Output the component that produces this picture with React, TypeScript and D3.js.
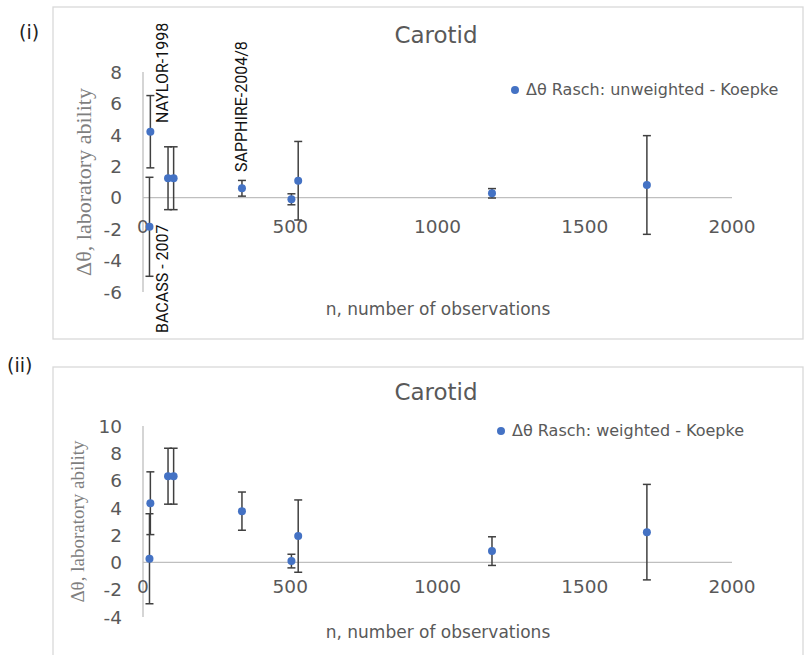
import React from "react";
import * as d3 from "d3";

const nObs = [25, 22, 85, 104, 336, 504, 527, 1185, 1711];
const unweighted = [4.2, -1.85, 1.24, 1.24, 0.6, -0.1, 1.08, 0.28, 0.81];
const unweightedErr = [2.3, 3.15, 2.0, 2.0, 0.5, 0.35, 2.5, 0.3, 3.14];
const weighted = [4.34, 0.27, 6.32, 6.32, 3.76, 0.1, 1.93, 0.83, 2.22];
const weightedErr = [2.3, 3.3, 2.05, 2.05, 1.4, 0.5, 2.65, 1.05, 3.5];
const xTicks = [0, 500, 1000, 1500, 2000];
const yTicksTop = [-6, -4, -2, 0, 2, 4, 6, 8];
const yTicksBottom = [-4, -2, 0, 2, 4, 6, 8, 10];
const annotations = [
  { label: "NAYLOR-1998", n: 25, anchorY: 123, dx: 18 },
  { label: "SAPPHIRE-2004/8", n: 336, anchorY: 172, dx: 5 },
  { label: "BACASS - 2007", n: 22, anchorY: 333, dx: 19 },
];

const TEXT = "#595959";
const AXIS = "#BFBFBF";
const ERR = "#404040";
const DOT = "#4472C4";
const SANS = "DejaVu Sans, sans-serif";

type PanelProps = {
  tag: string;
  tagX: number;
  tagY: number;
  box: [number, number, number, number];
  yDomain: [number, number];
  yRange: [number, number];
  yTicks: number[];
  values: number[];
  errs: number[];
  title: string;
  titleY: number;
  legend: string;
  legendX: number;
  legendY: number;
  tickLabelY: number;
  xTitleY: number;
  yTitleX: number;
  yTitleSize: number;
  showAnn: boolean;
};

function Panel(p: PanelProps) {
  const x = d3.scaleLinear().domain([0, 2000]).range([143, 732]);
  const y = d3.scaleLinear().domain(p.yDomain).range(p.yRange);
  const [bx, by, bw, bh] = p.box;
  const yMid = (p.yRange[0] + p.yRange[1]) / 2;
  return (
    <g>
      <text x={p.tagX} y={p.tagY} fontFamily={SANS} fontSize={19} fill="#222">
        {p.tag}
      </text>
      <rect x={bx} y={by} width={bw} height={bh} fill="#fff" stroke="#D9D9D9" strokeWidth={1.3} />
      <text x={436} y={p.titleY} textAnchor="middle" fontFamily={SANS} fontSize={23} fill={TEXT}>
        {p.title}
      </text>
      <line x1={x(0)} x2={x(0)} y1={y(p.yDomain[1])} y2={y(p.yDomain[0])} stroke={AXIS} strokeWidth={1.3} />
      <line x1={x(0)} x2={x(2000)} y1={y(0)} y2={y(0)} stroke={AXIS} strokeWidth={1.3} />
      {p.yTicks.map((t) => (
        <text key={"y" + t} x={122} y={y(t)} dy="0.36em" textAnchor="end" fontFamily={SANS} fontSize={18.5} fill={TEXT}>
          {t}
        </text>
      ))}
      {xTicks.map((t) => (
        <text key={"x" + t} x={x(t)} y={p.tickLabelY} textAnchor="middle" fontFamily={SANS} fontSize={18.5} fill={TEXT}>
          {t}
        </text>
      ))}
      <text x={438} y={p.xTitleY} textAnchor="middle" fontFamily={SANS} fontSize={17} fill={TEXT}>
        n, number of observations
      </text>
      <text
        transform={`translate(${p.yTitleX},${yMid}) rotate(-90)`}
        textAnchor="middle"
        fontFamily="Liberation Serif, Times New Roman, serif"
        fontSize={p.yTitleSize}
        fill="#7F7F7F"
      >
        Δθ, laboratory ability
      </text>
      {nObs.map((n, i) => {
        const cx = x(n);
        const hi = y(p.values[i] + p.errs[i]);
        const lo = y(p.values[i] - p.errs[i]);
        return (
          <g key={"e" + i} stroke={ERR} strokeWidth={1.5}>
            <line x1={cx} x2={cx} y1={hi} y2={lo} />
            <line x1={cx - 4} x2={cx + 4} y1={hi} y2={hi} />
            <line x1={cx - 4} x2={cx + 4} y1={lo} y2={lo} />
          </g>
        );
      })}
      {nObs.map((n, i) => (
        <circle key={"d" + i} cx={x(n)} cy={y(p.values[i])} r={4} fill={DOT} />
      ))}
      <circle cx={p.legendX} cy={p.legendY - 5} r={4} fill={DOT} />
      <text x={p.legendX + 11} y={p.legendY} fontFamily={SANS} fontSize={16} fill={TEXT}>
        {p.legend}
      </text>
      {p.showAnn &&
        annotations.map((a) => (
          <text
            key={a.label}
            transform={`translate(${x(a.n) + a.dx},${a.anchorY}) rotate(-90)`}
            fontFamily="Roboto, sans-serif"
            fontSize={16}
            fill="#111"
          >
            {a.label}
          </text>
        ))}
    </g>
  );
}

export default function App() {
  return (
    <svg width={806} height={655} style={{ position: "absolute", left: 0, top: 0, background: "#fff" }}>
      <rect x={0} y={0} width={806} height={655} fill="#fff" />
      <Panel
        tag="(i)"
        tagX={19}
        tagY={39}
        box={[53, 7, 750, 332]}
        yDomain={[-6, 8]}
        yRange={[292, 72]}
        yTicks={yTicksTop}
        values={unweighted}
        errs={unweightedErr}
        title="Carotid"
        titleY={43}
        legend="Δθ Rasch: unweighted - Koepke"
        legendX={515}
        legendY={95}
        tickLabelY={233}
        xTitleY={315}
        yTitleX={91}
        yTitleSize={22}
        showAnn={true}
      />
      <Panel
        tag="(ii)"
        tagX={7}
        tagY={372}
        box={[53, 367, 750, 300]}
        yDomain={[-4, 10]}
        yRange={[617, 426]}
        yTicks={yTicksBottom}
        values={weighted}
        errs={weightedErr}
        title="Carotid"
        titleY={400}
        legend="Δθ Rasch: weighted - Koepke"
        legendX={501}
        legendY={436}
        tickLabelY={593}
        xTitleY={638}
        yTitleX={84}
        yTitleSize={19}
        showAnn={false}
      />
    </svg>
  );
}
